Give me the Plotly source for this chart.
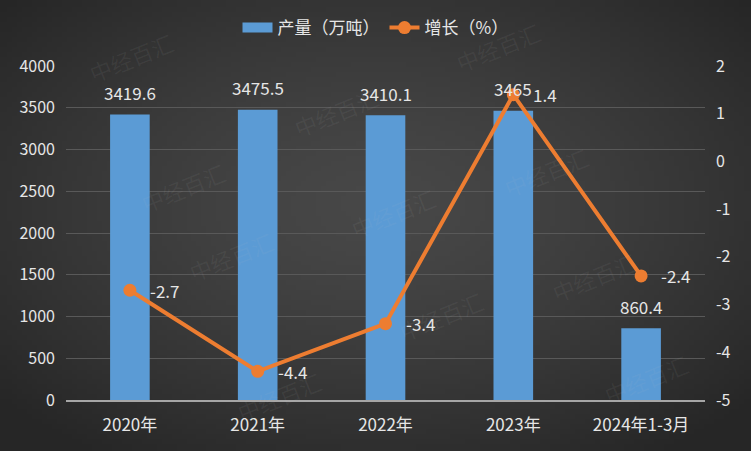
import base64
import struct
import zlib
import numpy as np
import plotly.graph_objects as go

categories = ["2020年", "2021年", "2022年", "2023年", "2024年1-3月"]
output_values = [3419.6, 3475.5, 3410.1, 3465, 860.4]
growth_values = [-2.7, -4.4, -3.4, 1.4, -2.4]
output_labels = ["3419.6", "3475.5", "3410.1", "3465", "860.4"]
growth_labels = ["-2.7", "-4.4", "-3.4", "1.4", "-2.4"]
left_ticks = [0, 500, 1000, 1500, 2000, 2500, 3000, 3500, 4000]
right_ticks = [-5, -4, -3, -2, -1, 0, 1, 2]
right_tick_text = ["-5", "-4", "-3", "-2", "-1", "0", "1", "2"]

FONT = "Noto Sans CJK SC, Microsoft YaHei, sans-serif"
TXT = "#e6e6e6"
BAR = "#5b9bd5"
W, H = 751, 451
L, R, T, B = 66, 46, 66, 51
PW, PH = W - L - R, H - T - B


def gradient_png(w, h):
    yy, xx = np.mgrid[0:h, 0:w]
    dx = (xx - w * 0.5) / (w * 0.5)
    dy = (yy - h * 0.45) / (h * 0.5)
    d = np.clip(np.sqrt(dx ** 2 + dy ** 2) / 1.35, 0, 1)
    v = (72 - (72 - 38) * d ** 1.4).astype(np.uint8)
    raw = b"".join(b"\x00" + bytes(np.stack([row, row, row], axis=1).flatten()) for row in v)

    def chunk(tag, data):
        c = tag + data
        return struct.pack(">I", len(data)) + c + struct.pack(">I", zlib.crc32(c) & 0xffffffff)

    png = b"\x89PNG\r\n\x1a\n" + chunk(b"IHDR", struct.pack(">IIBBBBB", w, h, 8, 2, 0, 0, 0))
    png += chunk(b"IDAT", zlib.compress(raw, 9)) + chunk(b"IEND", b"")
    return "data:image/png;base64," + base64.b64encode(png).decode()


fig = go.Figure()
# legend-only entry giving a wide bar swatch
fig.add_trace(go.Scatter(
    x=[categories[0]], y=[None], name="产量（万吨）", mode="lines",
    line=dict(color=BAR, width=14), hoverinfo="skip", legendrank=1,
))
fig.add_trace(go.Bar(
    x=categories, y=output_values, name="产量（万吨）",
    marker=dict(color=BAR, line=dict(width=0)),
    yaxis="y", showlegend=False,
))
fig.add_trace(go.Scatter(
    x=categories, y=growth_values, name="增长（%）",
    mode="lines+markers",
    line=dict(color="#ed7d31", width=4),
    marker=dict(color="#ed7d31", size=13),
    cliponaxis=False, yaxis="y2", legendrank=2,
))

annotations = []
for c, v, t in zip(categories, output_values, output_labels):
    annotations.append(dict(x=c, y=v, xref="x", yref="y", text=t, showarrow=False,
                            yanchor="middle", yshift=22,
                            font=dict(size=17, color=TXT, family=FONT)))
for c, v, t in zip(categories, growth_values, growth_labels):
    annotations.append(dict(x=c, y=v, xref="x", yref="y2", text=t, showarrow=False,
                            xanchor="left", xshift=18, yanchor="middle",
                            font=dict(size=17, color=TXT, family=FONT)))

# faint watermarks (decorative)
wm_px = [(82, 23), (336, 78), (134, 153), (595, 138), (393, 213), (182, 290),
         (441, 350), (643, 277), (230, 430), (695, 413), (547, 13)]
for px, py in wm_px:
    annotations.append(dict(x=(px - L) / PW, y=(H - B - py) / PH, xref="paper", yref="paper",
                            text="中经百汇", showarrow=False, textangle=-22,
                            font=dict(size=22, color="rgba(200,200,200,0.07)", family=FONT)))

fig.update_layout(
    width=W, height=H,
    paper_bgcolor="#383838", plot_bgcolor="rgba(0,0,0,0)",
    margin=dict(l=L, r=R, t=T, b=B, autoexpand=False),
    font=dict(family=FONT, color=TXT, size=16),
    bargap=0.69,
    showlegend=True,
    legend=dict(orientation="h", x=0.5, xanchor="center", xref="container",
                y=1 - 28 / H, yanchor="middle", yref="container",
                font=dict(size=17, color=TXT), bgcolor="rgba(0,0,0,0)"),
    xaxis=dict(type="category", categoryorder="array", categoryarray=categories,
               showgrid=False, showline=True, linecolor="#a6a6a6", linewidth=2,
               ticks="", tickfont=dict(size=17, color=TXT), ticklabelstandoff=9),
    yaxis=dict(range=[0, 4000], tickvals=left_ticks, showgrid=True, gridcolor="#595959",
               gridwidth=1, zeroline=False, showline=False,
               tickfont=dict(size=16, color=TXT), ticklabelstandoff=10),
    yaxis2=dict(range=[-5, 2], tickvals=right_ticks, ticktext=right_tick_text,
                overlaying="y", side="right",
                showgrid=False, zeroline=False, showline=False,
                tickfont=dict(size=16, color=TXT), ticklabelstandoff=10),
    annotations=annotations,
    images=[dict(source=gradient_png(151, 91), xref="paper", yref="paper",
                 x=-L / PW, y=1 + T / PH, sizex=W / PW, sizey=H / PH,
                 xanchor="left", yanchor="top", sizing="stretch", layer="below")],
)

fig.write_html("out.html", config={"displayModeBar": False},
               post_script="document.body.style.margin='0';document.body.style.background='#2a2a2a';")
